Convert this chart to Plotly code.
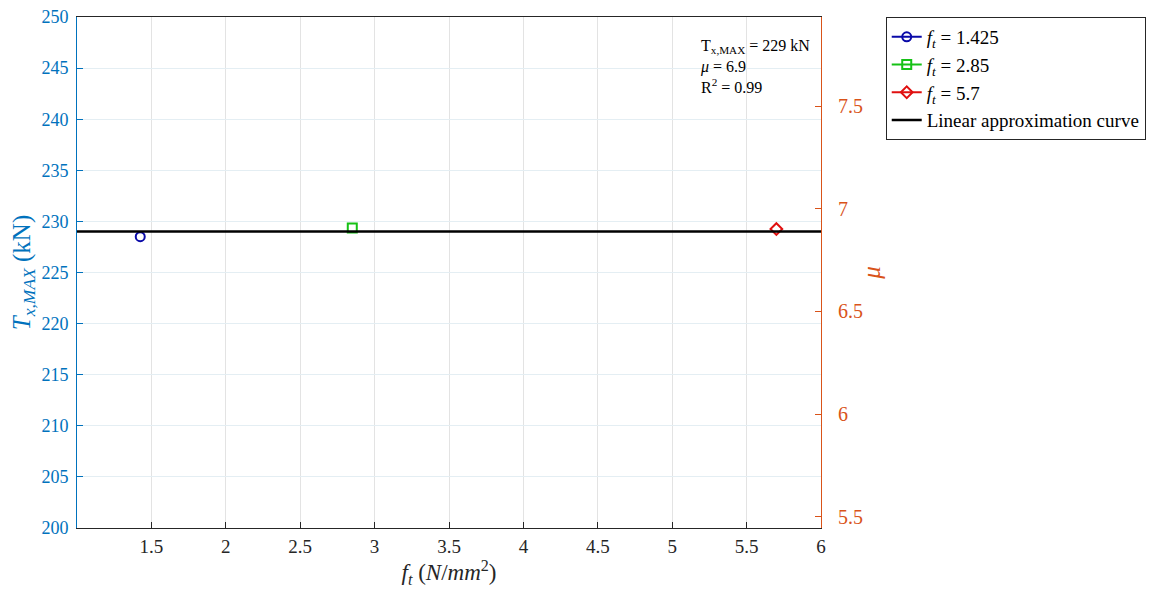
import plotly.graph_objects as go

# Data
ft_values = [1.425, 2.85, 5.7]
tmax_values = [228.5, 229.35, 229.25]
series_names = ["<i>f<sub>t</sub></i> = 1.425", "<i>f<sub>t</sub></i> = 2.85", "<i>f<sub>t</sub></i> = 5.7"]
fit_x = [1, 6]
fit_y = [229, 229]
x_ticks = [1.5, 2, 2.5, 3, 3.5, 4, 4.5, 5, 5.5, 6]
left_ticks = [200, 205, 210, 215, 220, 225, 230, 235, 240, 245, 250]
right_ticks = [5.5, 6, 6.5, 7, 7.5]

colors = ["#0a0aa8", "#16c116", "#e01010"]
symbols = ["circle-open", "square-open", "diamond-open"]

SERIF = "Liberation Serif"
BLUE = "#0072BD"
ORANGE = "#D95319"

fig = go.Figure()
for x, y, name, c, s in zip(ft_values, tmax_values, series_names, colors, symbols):
    fig.add_trace(go.Scatter(
        x=[x], y=[y], mode="lines+markers", name=name,
        line=dict(color=c, width=2),
        marker=dict(symbol=s, size=9, color=c, line=dict(color=c, width=2)),
    ))
fig.add_trace(go.Scatter(
    x=fit_x, y=fit_y, mode="lines", name="Linear approximation curve",
    line=dict(color="black", width=2.5),
))
# dummy trace to instantiate right axis
fig.add_trace(go.Scatter(x=[None], y=[None], yaxis="y2", showlegend=False, hoverinfo="skip"))

fig.add_annotation(
    x=0.835, y=0.965, xref="paper", yref="paper", xanchor="left", yanchor="top",
    align="left", showarrow=False,
    text="T<sub>x,MAX</sub> = 229 kN<br><i>μ</i> = 6.9<br>R<sup>2</sup> = 0.99",
    font=dict(family=SERIF, size=16, color="black"),
)

fig.update_layout(
    width=1155, height=590,
    margin=dict(l=69, r=342, t=9, b=70, autoexpand=False),
    paper_bgcolor="white", plot_bgcolor="white",
    font=dict(family=SERIF, size=19, color="#262626"),
    showlegend=True,
    legend=dict(
        x=1.087, y=1.0, xanchor="left", yanchor="top",
        bordercolor="#262626", borderwidth=1, bgcolor="white",
        font=dict(family=SERIF, size=19, color="black"),
        tracegroupgap=0, itemwidth=30,
    ),
    xaxis=dict(
        range=[1, 6], tickmode="array", tickvals=x_ticks, ticktext=[str(v) for v in x_ticks],
        showgrid=True, gridcolor="#e3e3e3", gridwidth=1,
        ticks="inside", ticklen=6, tickcolor="#262626",
        showline=True, linecolor="#262626", linewidth=1, mirror=True,
        zeroline=False, automargin=False, ticklabelstandoff=1,
        title=dict(text="<i>f<sub>t</sub></i> (<i>N</i>/<i>mm</i><sup>2</sup>)",
                   font=dict(family=SERIF, size=23, color="#262626"), standoff=2),
        tickfont=dict(family=SERIF, size=19, color="#262626"),
    ),
    yaxis=dict(
        range=[200, 250], tickmode="array", tickvals=left_ticks, ticktext=[str(v) for v in left_ticks],
        showgrid=True, gridcolor="#e4eef3", gridwidth=1,
        ticks="inside", ticklen=6, tickcolor=BLUE,
        showline=True, linecolor=BLUE, linewidth=1,
        zeroline=False, automargin=False, ticklabelstandoff=4, ticklabeloverflow="allow",
        title=dict(text="<i>T<sub>x,MAX</sub></i> (kN)",
                   font=dict(family=SERIF, size=25, color=BLUE), standoff=4),
        tickfont=dict(family=SERIF, size=18, color=BLUE),
    ),
    yaxis2=dict(
        overlaying="y", side="right", anchor="x",
        range=[5.445, 7.935], tickmode="array", tickvals=right_ticks, ticktext=[str(v) for v in right_ticks],
        showgrid=False,
        ticks="inside", ticklen=6, tickcolor=ORANGE,
        showline=True, linecolor=ORANGE, linewidth=1,
        zeroline=False, automargin=False, ticklabelstandoff=12,
        title=dict(text="<i>μ</i>", font=dict(family=SERIF, size=25, color=ORANGE), standoff=0),
        tickfont=dict(family=SERIF, size=20, color=ORANGE),
    ),
)

fig.write_html("out.html")
